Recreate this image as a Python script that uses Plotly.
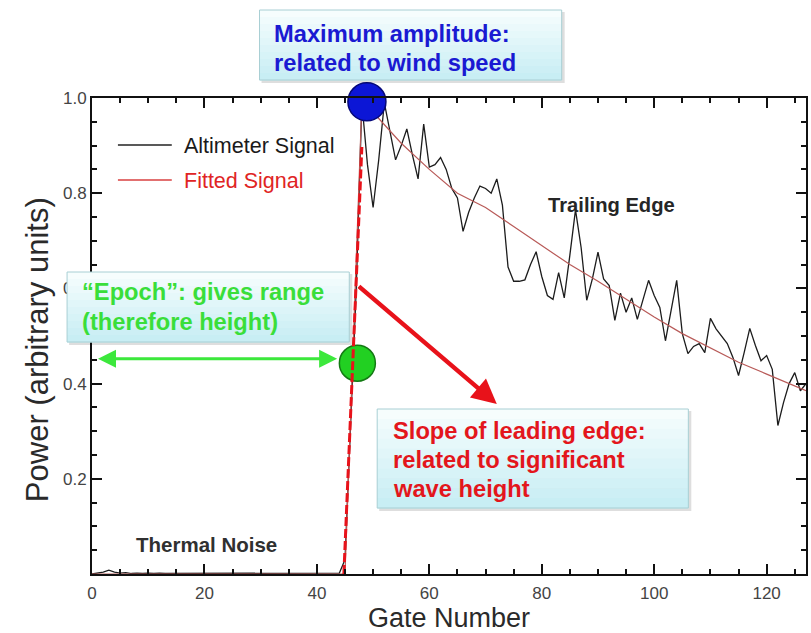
import plotly.graph_objects as go

# ---------------- data ----------------
gates = list(range(128))
altimeter = [
    0.000, 0.002, 0.004, 0.008, 0.004, 0.002, 0.003, 0.001, 0.002, 0.001,
    0.002, 0.001, 0.002, 0.001, 0.001, 0.002, 0.001, 0.002, 0.001, 0.001,
    0.002, 0.001, 0.001, 0.002, 0.001, 0.001, 0.002, 0.001, 0.001, 0.002,
    0.001, 0.001, 0.002, 0.001, 0.001, 0.002, 0.001, 0.001, 0.002, 0.001,
    0.001, 0.002, 0.001, 0.001, 0.002, 0.030, 0.330, 0.600, 0.990, 0.860,
    0.770, 0.870, 0.990, 0.930, 0.870, 0.900, 0.935, 0.880, 0.830, 0.945,
    0.855, 0.860, 0.875, 0.850, 0.810, 0.790, 0.720, 0.760, 0.790, 0.815,
    0.810, 0.800, 0.830, 0.775, 0.645, 0.615, 0.615, 0.618, 0.650, 0.677,
    0.625, 0.585, 0.577, 0.633, 0.580, 0.670, 0.765, 0.686, 0.575, 0.620,
    0.676, 0.620, 0.606, 0.533, 0.590, 0.550, 0.580, 0.535, 0.575, 0.617,
    0.585, 0.560, 0.490, 0.550, 0.617, 0.505, 0.463, 0.478, 0.484, 0.465,
    0.537, 0.515, 0.500, 0.484, 0.455, 0.417, 0.465, 0.516, 0.480, 0.448,
    0.459, 0.430, 0.312, 0.360, 0.400, 0.423, 0.385, 0.400,
]
fit_gates = [0, 45, 48, 50, 55, 60, 65, 70, 75, 80, 85, 90, 95, 100, 105, 110, 115, 120, 125, 127]
fit_values = [0.0, 0.0, 0.99, 0.97, 0.905, 0.85, 0.80, 0.77, 0.73, 0.69, 0.65, 0.615, 0.578,
              0.54, 0.505, 0.475, 0.445, 0.42, 0.395, 0.385]
leading_gates = [44.8, 48.0]
leading_values = [0.0, 0.897]
max_gate, max_value = 48.9, 0.992
epoch_gate, epoch_value = 47.2, 0.443
slope_tail = (47.2, 0.607)
slope_head = (72.0, 0.357)
epoch_arrow = (0.8, 43.6, 0.452)

x_ticks = [0, 20, 40, 60, 80, 100, 120]
y_ticks = [0.2, 0.4, 0.6, 0.8, 1.0]
y_ticktext = ["0.2", "0.4", "0.6", "0.8", "1.0"]

# ---------------- layout helpers ----------------
W, H = 811, 633
L, R, T, B = 92, 3, 98, 59
PW, PH = W - L - R, H - T - B


def px(x):
    return (x - L) / PW


def py(y):
    return (H - B - y) / PH


FONT = "Liberation Sans, Arial, sans-serif"

fig = go.Figure()

fig.add_trace(go.Scatter(x=gates, y=altimeter, mode="lines",
                         line=dict(color="#1c1c1c", width=1.3), showlegend=False))
fig.add_trace(go.Scatter(x=fit_gates, y=fit_values, mode="lines",
                         line=dict(color="#b85a58", width=1.2), showlegend=False))
fig.add_trace(go.Scatter(x=[max_gate], y=[max_value], mode="markers",
                         marker=dict(size=38, color="#0c16d6", line=dict(color="#05087a", width=1.5)),
                         showlegend=False, cliponaxis=False))
fig.add_trace(go.Scatter(x=[epoch_gate], y=[epoch_value], mode="markers",
                         marker=dict(size=36, color="#22d022", line=dict(color="#137a13", width=1.5)),
                         showlegend=False, cliponaxis=False))
fig.add_trace(go.Scatter(x=leading_gates, y=leading_values, mode="lines",
                         line=dict(color="#e8121a", width=3, dash="9px,3px"), showlegend=False))

shapes = []
annotations = []


def add_box(x0, y0, x1, y1):
    # shadow
    shapes.append(dict(type="rect", xref="paper", yref="paper", x0=px(x0 + 2), x1=px(x1 + 3),
                       y0=py(y1 + 3), y1=py(y0 + 2), line=dict(width=0),
                       fillcolor="rgba(0,0,0,0.13)", layer="above"))
    n = 10
    top = (246, 253, 253)
    bot = (200, 238, 244)
    for i in range(n):
        t = i / (n - 1)
        c = tuple(int(top[k] + (bot[k] - top[k]) * t) for k in range(3))
        ya = y0 + (y1 - y0) * i / n
        yb = y0 + (y1 - y0) * (i + 1) / n
        shapes.append(dict(type="rect", xref="paper", yref="paper", x0=px(x0), x1=px(x1),
                           y0=py(yb + 0.5), y1=py(ya), line=dict(width=0),
                           fillcolor="rgb(%d,%d,%d)" % c, layer="above"))
    shapes.append(dict(type="rect", xref="paper", yref="paper", x0=px(x0), x1=px(x1),
                       y0=py(y1), y1=py(y0), line=dict(color="#a8cfd4", width=1),
                       fillcolor="rgba(0,0,0,0)", layer="above"))


def add_text(x, y, text, color, size, bold=True, anchor="left"):
    annotations.append(dict(xref="paper", yref="paper", x=px(x), y=py(y), text=("<b>%s</b>" % text) if bold else text,
                            showarrow=False, xanchor=anchor, yanchor="middle",
                            font=dict(family=FONT, size=size, color=color)))


# boxes
add_box(260, 10, 563, 80)
add_text(273, 34, "Maximum amplitude:", "#1a1ad2", 23.7)
add_text(273, 63, "related to wind speed", "#1a1ad2", 23.7)

add_box(67, 272, 350, 342)
add_text(80, 292, "“Epoch”: gives range", "#3ade3a", 23.7)
add_text(80, 322, "(therefore height)", "#3ade3a", 23.7)

add_box(378, 409, 690, 508)
add_text(392, 431, "Slope of leading edge:", "#e3161c", 23.7)
add_text(392, 460, "related to significant", "#e3161c", 23.7)
add_text(392, 489, "wave height", "#e3161c", 23.7)

# legend
shapes.append(dict(type="line", xref="paper", yref="paper", x0=px(118), x1=px(172), y0=py(145), y1=py(145),
                   line=dict(color="#222", width=1.4)))
shapes.append(dict(type="line", xref="paper", yref="paper", x0=px(118), x1=px(172), y0=py(180), y1=py(180),
                   line=dict(color="#d84040", width=1.4)))
add_text(182, 146, "Altimeter Signal", "#1a1a1a", 21.5, bold=False)
add_text(182, 181, "Fitted Signal", "#e02424", 21.5, bold=False)

# labels in plot
annotations.append(dict(x=92.4, y=0.775, xref="x", yref="y", text="<b>Trailing Edge</b>", showarrow=False,
                        font=dict(family=FONT, size=20.2, color="#262626")))
annotations.append(dict(x=20.4, y=0.062, xref="x", yref="y", text="<b>Thermal Noise</b>", showarrow=False,
                        font=dict(family=FONT, size=20.5, color="#303030")))

# arrows
annotations.append(dict(x=slope_head[0], y=slope_head[1], ax=slope_tail[0], ay=slope_tail[1],
                        xref="x", yref="y", axref="x", ayref="y", text="", showarrow=True,
                        arrowhead=2, arrowsize=1.1, arrowwidth=4.5, arrowcolor="#e8121a"))
annotations.append(dict(x=epoch_arrow[1], y=epoch_arrow[2], ax=epoch_arrow[0], ay=epoch_arrow[2],
                        xref="x", yref="y", axref="x", ayref="y", text="", showarrow=True,
                        arrowhead=2, startarrowhead=2, arrowside="end+start", arrowsize=1.2, startarrowsize=1.2,
                        arrowwidth=3, arrowcolor="#3ce83c"))

# axis titles
add_text(450, 617.5, "Gate Number", "#2a2a2a", 27, bold=False, anchor="center")
annotations.append(dict(xref="paper", yref="paper", x=px(37), y=py(350), text="Power (arbitrary units)",
                        textangle=-90, showarrow=False, xanchor="center", yanchor="middle",
                        font=dict(family=FONT, size=31, color="#2a2a2a")))

axis_common = dict(showline=True, linecolor="#111", linewidth=2, mirror="allticks", ticks="inside",
                   tickcolor="#111", tickwidth=2, ticklen=10, showgrid=False, zeroline=False,
                   tickfont=dict(family=FONT, size=17, color="#444"))

fig.update_layout(
    width=W, height=H, margin=dict(l=L, r=R, t=T, b=B),
    paper_bgcolor="white", plot_bgcolor="white",
    shapes=shapes, annotations=annotations, showlegend=False,
    xaxis=dict(range=[0, 127], tickvals=x_ticks, ticklabelstandoff=3,
               minor=dict(dtick=5, tick0=0, ticks="inside", ticklen=5, tickwidth=1.5, tickcolor="#111"),
               **axis_common),
    yaxis=dict(range=[0, 1.0], tickvals=y_ticks, ticktext=y_ticktext,
               minor=dict(dtick=0.05, tick0=0, ticks="inside", ticklen=5, tickwidth=1.5, tickcolor="#111"),
               **axis_common),
)

fig.write_html("out.html", config={"displayModeBar": False},
               post_script="document.body.style.margin='0';document.body.style.padding='0';"
                           "document.body.style.overflow='hidden';")
